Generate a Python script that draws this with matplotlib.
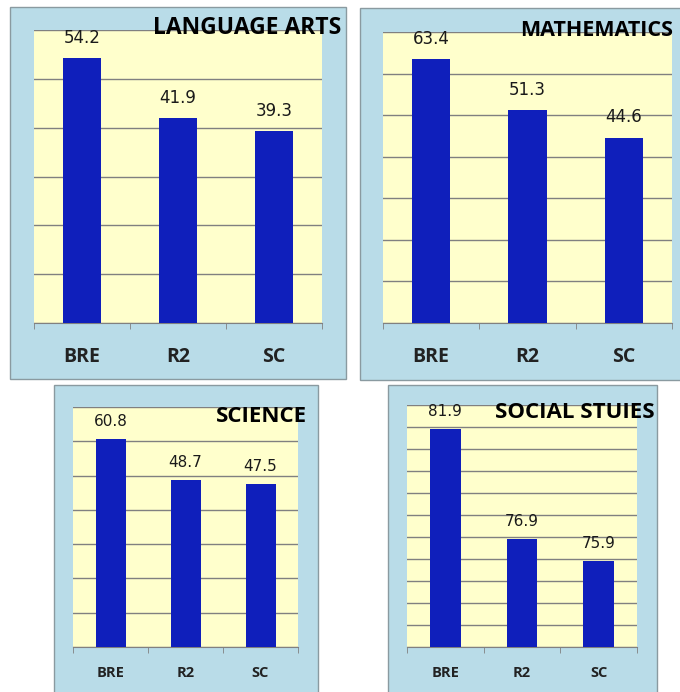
import matplotlib.pyplot as plt
from matplotlib.patches import Rectangle

schools = ["BRE", "R2", "SC"]
language_arts = [54.2, 41.9, 39.3]
mathematics = [63.4, 51.3, 44.6]
science = [60.8, 48.7, 47.5]
social_studies = [81.9, 76.9, 75.9]

W, H = 680, 692
fig = plt.figure(figsize=(W / 100, H / 100), dpi=100)
fig.patch.set_facecolor("white")

frame_col = "#b9dce8"
plot_col = "#ffffcc"
bar_col = "#0f1fbb"


def px_box(x0, y0, x1, y1):
    # pixel box (top-left origin) -> figure fraction [l, b, w, h]
    return [x0 / W, (H - y1) / H, (x1 - x0) / W, (y1 - y0) / H]


def panel(frame, box, values, ylim, step, title, title_xy, title_ha,
          val_size, lab_size, lab_pad, title_size, val_off):
    l, b, w, h = px_box(*frame)
    fig.patches.append(Rectangle((l, b), w, h, transform=fig.transFigure,
                                 facecolor=frame_col, edgecolor="#8a9aa0",
                                 linewidth=1.0, zorder=-10))
    ax = fig.add_axes(px_box(*box))
    ax.set_facecolor(plot_col)
    x = range(len(schools))
    bars = ax.bar(x, values, width=0.4, color=bar_col, zorder=3)
    ax.set_xlim(-0.5, 2.5)
    ax.set_ylim(*ylim)
    ticks = [ylim[0] + i * step for i in range(int(round((ylim[1] - ylim[0]) / step)) + 1)]
    ax.set_yticks(ticks)
    ax.yaxis.grid(True, color="#808080", linewidth=1.0)
    ax.set_axisbelow(True)
    ax.tick_params(axis="y", length=0, labelleft=False)
    ax.set_xticks(list(x))
    ax.set_xticklabels(schools, fontfamily="Open Sans", fontweight="bold",
                       fontsize=lab_size, color="#222222")
    ax.set_xticks([-0.5, 0.5, 1.5, 2.5], minor=True)
    ax.tick_params(axis="x", which="major", length=0, pad=lab_pad)
    ax.tick_params(axis="x", which="minor", length=4, color="#808080", direction="out")
    for s in ["left", "right", "top"]:
        ax.spines[s].set_visible(False)
    ax.spines["bottom"].set_color("#808080")
    for rect, v in zip(bars, values):
        ax.annotate(f"{v:.1f}", (rect.get_x() + rect.get_width() / 2, v),
                    xytext=(0, val_off), textcoords="offset points",
                    ha="center", va="bottom", fontsize=val_size,
                    color="#1a1a1a", fontfamily="DejaVu Sans")
    fig.text(title_xy[0] / W, 1 - title_xy[1] / H, title, ha=title_ha, va="center",
             fontfamily="Open Sans", fontweight="bold", fontsize=title_size,
             color="black", zorder=10)
    return ax


panel((10, 7, 346, 379), (34, 30, 322, 323), language_arts, (0, 60), 10,
      "LANGUAGE ARTS", (341, 28), "right", 12, 14, 17, 16.5, 8)
panel((360, 8, 684, 380), (383, 32, 672, 323), mathematics, (0, 70), 10,
      "MATHEMATICS", (520, 30), "left", 12, 14, 17, 15.5, 8)
panel((54, 385, 318, 694), (73, 407, 298, 647), science, (0, 70), 10,
      "SCIENCE", (307, 417), "right", 11, 10.5, 14, 16, 7)
panel((388, 385, 657, 694), (407, 405, 637, 647), social_studies, (72, 83), 1,
      "SOCIAL STUIES", (495, 412), "left", 11, 10.5, 14, 16, 7)

fig.savefig("out.png", dpi=100)
